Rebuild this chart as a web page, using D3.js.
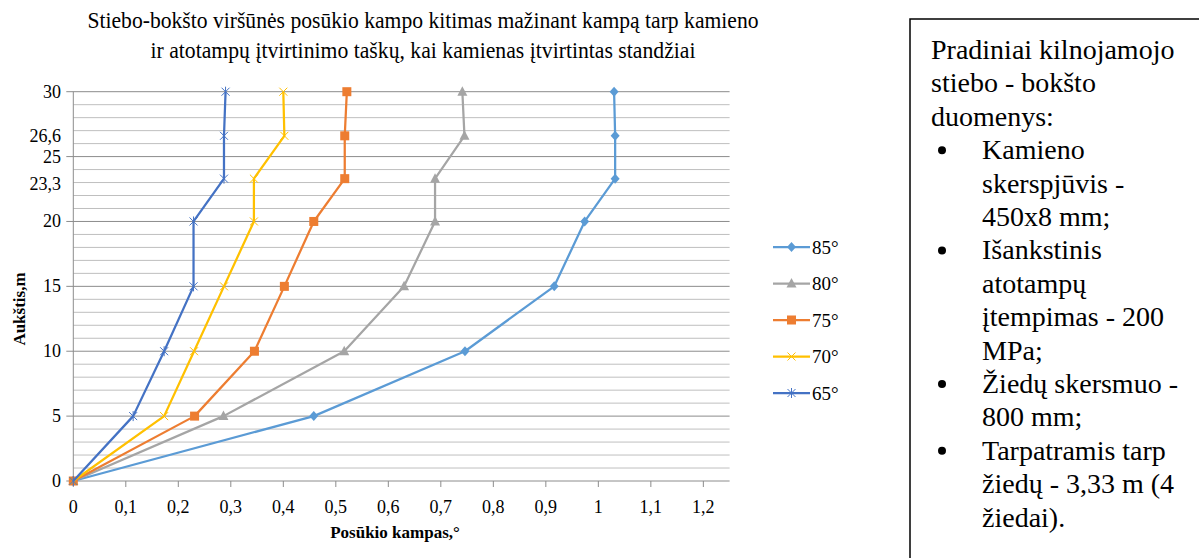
<!DOCTYPE html>
<html>
<head>
<meta charset="utf-8">
<script src="https://cdn.jsdelivr.net/npm/d3@7"></script>
<style>
  body { margin: 0; background: #fff; }
  svg text { font-family: "Liberation Serif", "Times New Roman", serif; }
</style>
</head>
<body>
<script>
// chart data
var heights = [0, 5, 10, 15, 20, 23.3, 26.6, 30];
var angle85 = [0, 0.458, 0.746, 0.916, 0.974, 1.032, 1.032, 1.030];
var angle80 = [0, 0.286, 0.516, 0.630, 0.689, 0.689, 0.745, 0.741];
var angle75 = [0, 0.231, 0.345, 0.402, 0.458, 0.517, 0.517, 0.521];
var angle70 = [0, 0.173, 0.230, 0.287, 0.344, 0.344, 0.402, 0.400];
var angle65 = [0, 0.114, 0.173, 0.229, 0.229, 0.287, 0.287, 0.290];
var seriesNames = ["85°", "80°", "75°", "70°", "65°"];
var yTickValues = [0, 5, 10, 15, 20, 23.3, 25, 26.6, 30];
var xTickValues = [0, 0.1, 0.2, 0.3, 0.4, 0.5, 0.6, 0.7, 0.8, 0.9, 1, 1.1, 1.2];
var titleLines = ["Stiebo-bokšto viršūnės posūkio kampo kitimas mažinant kampą tarp kamieno",
                  "ir atotampų įtvirtinimo taškų, kai kamienas įtvirtintas standžiai"];
var noteLines = [
  {t: "Pradiniai kilnojamojo", b: false},
  {t: "stiebo - bokšto", b: false},
  {t: "duomenys:", b: false},
  {t: "Kamieno", b: true},
  {t: "skerspjūvis -", b: false},
  {t: "450x8 mm;", b: false},
  {t: "Išankstinis", b: true},
  {t: "atotampų", b: false},
  {t: "įtempimas - 200", b: false},
  {t: "MPa;", b: false},
  {t: "Žiedų skersmuo -", b: true},
  {t: "800 mm;", b: false},
  {t: "Tarpatramis tarp", b: true},
  {t: "žiedų - 3,33 m (4", b: false},
  {t: "žiedai).", b: false}
];

var width = 1199, height = 558;
var colors = ["#5B9BD5", "#A5A5A5", "#ED7D31", "#FFC000", "#4472C4"];
var markers = ["diamond", "triangle", "square", "cross", "star"];

var series = [angle85, angle80, angle75, angle70, angle65].map(function(vals, i) {
  return {
    name: seriesNames[i],
    color: colors[i],
    marker: markers[i],
    points: vals.map(function(v, j) { return {x: v, y: heights[j]}; })
  };
});

var svg = d3.select("body").append("svg")
    .attr("width", width)
    .attr("height", height)
    .attr("font-family", "'Liberation Serif', 'Times New Roman', serif");

var x = d3.scaleLinear().domain([0, 1.25]).range([73.3, 729.6]);
var y = d3.scaleLinear().domain([0, 30]).range([481, 91.7]);

// title (condensed, like the original)
svg.selectAll(".title")
  .data(titleLines)
  .enter().append("text")
  .attr("class", "title")
  .attr("x", 423)
  .attr("y", function(d, i) { return 28 + i * 30; })
  .attr("text-anchor", "middle")
  .attr("font-size", 23)
  .attr("textLength", function(d, i) { return i == 0 ? 671 : 545; })
  .attr("lengthAdjust", "spacingAndGlyphs")
  .text(function(d) { return d; });

// gridlines, minor first then major
svg.append("g").selectAll("line")
  .data(d3.range(1, 30).filter(function(d) { return d % 5 != 0; }))
  .enter().append("line")
  .attr("x1", x(0)).attr("x2", x(1.25))
  .attr("y1", function(d) { return y(d); })
  .attr("y2", function(d) { return y(d); })
  .attr("stroke", "#BFBFBF")
  .attr("stroke-width", 1);

svg.append("g").selectAll("line")
  .data([5, 10, 15, 20, 25, 30])
  .enter().append("line")
  .attr("x1", x(0) - 7).attr("x2", x(1.25))
  .attr("y1", function(d) { return y(d); })
  .attr("y2", function(d) { return y(d); })
  .attr("stroke", "#8C8C8C")
  .attr("stroke-width", 1);

// axes lines
svg.append("line")
  .attr("x1", x(0)).attr("x2", x(0))
  .attr("y1", y(30)).attr("y2", y(0))
  .attr("stroke", "#8C8C8C");
svg.append("line")
  .attr("x1", x(0) - 7).attr("x2", x(1.25))
  .attr("y1", y(0)).attr("y2", y(0))
  .attr("stroke", "#8C8C8C");

// x ticks
svg.append("g").selectAll("line")
  .data(xTickValues)
  .enter().append("line")
  .attr("x1", function(d) { return x(d); })
  .attr("x2", function(d) { return x(d); })
  .attr("y1", y(0)).attr("y2", y(0) + 6)
  .attr("stroke", "#8C8C8C");

svg.append("g").selectAll("text")
  .data(xTickValues)
  .enter().append("text")
  .attr("x", function(d) { return x(d); })
  .attr("y", 513)
  .attr("text-anchor", "middle")
  .attr("font-size", 18)
  .text(function(d) { return String(d).replace(".", ","); });

// y tick labels
svg.append("g").selectAll("text")
  .data(yTickValues)
  .enter().append("text")
  .attr("x", 61)
  .attr("y", function(d) { return y(d) + (d == 23.3 ? 5 : 0); })
  .attr("dy", "0.33em")
  .attr("text-anchor", "end")
  .attr("font-size", 18)
  .text(function(d) { return String(d).replace(".", ","); });

// axis titles
svg.append("text")
  .attr("x", 395).attr("y", 538)
  .attr("text-anchor", "middle")
  .attr("font-size", 17)
  .attr("font-weight", "bold")
  .text("Posūkio kampas,°");

svg.append("text")
  .attr("transform", "translate(25,309) rotate(-90)")
  .attr("text-anchor", "middle")
  .attr("font-size", 17)
  .attr("font-weight", "bold")
  .text("Aukštis,m");

// markers
function drawMarker(g, type, color, cx, cy) {
  if (type == "diamond") {
    g.append("path").attr("d", "M" + cx + "," + (cy - 5) + "L" + (cx + 4.5) + "," + cy + "L" + cx + "," + (cy + 5) + "L" + (cx - 4.5) + "," + cy + "Z")
      .attr("fill", color);
  } else if (type == "triangle") {
    g.append("path").attr("d", "M" + cx + "," + (cy - 5.5) + "L" + (cx + 5) + "," + (cy + 4) + "L" + (cx - 5) + "," + (cy + 4) + "Z")
      .attr("fill", color);
  } else if (type == "square") {
    g.append("rect").attr("x", cx - 4.5).attr("y", cy - 4.5).attr("width", 9).attr("height", 9)
      .attr("fill", color);
  } else if (type == "cross") {
    g.append("path").attr("d", "M" + (cx - 4) + "," + (cy - 4) + "L" + (cx + 4) + "," + (cy + 4) + "M" + (cx + 4) + "," + (cy - 4) + "L" + (cx - 4) + "," + (cy + 4))
      .attr("stroke", color).attr("stroke-width", 1);
  } else if (type == "star") {
    g.append("path").attr("d", "M" + (cx - 4) + "," + (cy - 4) + "L" + (cx + 4) + "," + (cy + 4) + "M" + (cx + 4) + "," + (cy - 4) + "L" + (cx - 4) + "," + (cy + 4) + "M" + cx + "," + (cy - 5) + "L" + cx + "," + (cy + 5))
      .attr("stroke", color).attr("stroke-width", 1);
  }
}

var line = d3.line()
  .x(function(d) { return x(d.x); })
  .y(function(d) { return y(d.y); });

series.forEach(function(s) {
  var g = svg.append("g");
  g.append("path")
    .datum(s.points)
    .attr("fill", "none")
    .attr("stroke", s.color)
    .attr("stroke-width", 2.25)
    .attr("stroke-linejoin", "round")
    .attr("d", line);
  s.points.forEach(function(p) {
    drawMarker(g, s.marker, s.color, x(p.x), y(p.y));
  });
});

// legend
var legend = svg.append("g");
series.forEach(function(s, i) {
  var ly = 247 + i * 36.5;
  legend.append("line")
    .attr("x1", 773).attr("x2", 810)
    .attr("y1", ly).attr("y2", ly)
    .attr("stroke", s.color)
    .attr("stroke-width", 2.25);
  drawMarker(legend, s.marker, s.color, 791.5, ly);
  legend.append("text")
    .attr("x", 812).attr("y", ly)
    .attr("dy", "0.35em")
    .attr("font-size", 19)
    .text(s.name);
});

// note box
svg.append("rect")
  .attr("x", 910).attr("y", 19)
  .attr("width", 300).attr("height", 560)
  .attr("fill", "none")
  .attr("stroke", "#000")
  .attr("stroke-width", 1.5);

var note = svg.append("g");
noteLines.forEach(function(d, i) {
  var ty = 59 + i * 33.4;
  var indent = i >= 3;
  note.append("text")
    .attr("x", indent ? 982 : 931)
    .attr("y", ty)
    .attr("font-size", 28)
    .text(d.t);
  if (d.b) {
    note.append("circle")
      .attr("cx", 942).attr("cy", ty - 9)
      .attr("r", 4)
      .attr("fill", "#000");
  }
});
</script>
</body>
</html>
